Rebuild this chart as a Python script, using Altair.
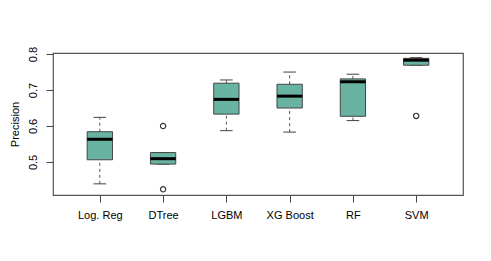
import altair as alt
import pandas as pd

models = ["Log. Reg", "DTree", "LGBM", "XG Boost", "RF", "SVM"]
whisk_lo = [0.439, 0.494, 0.587, 0.583, 0.615, 0.769]
q1 = [0.506, 0.494, 0.633, 0.650, 0.627, 0.769]
median = [0.563, 0.509, 0.674, 0.683, 0.723, 0.783]
q3 = [0.584, 0.526, 0.719, 0.716, 0.731, 0.788]
whisk_hi = [0.624, 0.526, 0.728, 0.750, 0.744, 0.790]
outlier_model = ["DTree", "DTree", "SVM"]
outlier_value = [0.600, 0.424, 0.628]
y_ticks = [0.5, 0.6, 0.7, 0.8]

pos = list(range(1, len(models) + 1))
df = pd.DataFrame({
    "model": models, "pos": pos, "lo": whisk_lo, "q1": q1,
    "med": median, "q3": q3, "hi": whisk_hi,
})
odf = pd.DataFrame({
    "pos": [models.index(m) + 1 for m in outlier_model],
    "value": outlier_value,
})

FONT = "Liberation Sans"
xs = alt.Scale(domain=[0.26, 6.74], nice=False, zero=False)
ys = alt.Scale(domain=[0.408, 0.803], nice=False, zero=False)

label_expr = "[" + ",".join("'%s'" % m for m in models) + "][datum.value - 1]"

x_axis = alt.Axis(values=pos, labelExpr=label_expr, title=None, grid=False,
                  domain=False, tickSize=7, tickColor="#444", labelPadding=16,
                  labelBaseline="alphabetic", labelFont=FONT, labelFontSize=11,
                  labelColor="#000", labelAngle=0)
y_axis = alt.Axis(values=y_ticks, format=".1f", title="Precision", grid=False,
                  domain=False, tickSize=7, tickColor="#444", labelPadding=10,
                  labelAngle=270, labelAlign="center", labelBaseline="alphabetic",
                  labelFont=FONT, labelFontSize=11, labelColor="#000",
                  titleFont=FONT, titleFontSize=11, titleFontWeight="normal",
                  titleColor="#000", titleAngle=270, titleBaseline="alphabetic",
                  titleAlign="center", titleX=-35, titleY=71)

base = alt.Chart(df).transform_calculate(
    left="datum.pos - 0.2", right="datum.pos + 0.2",
    cl="datum.pos - 0.1", cr="datum.pos + 0.1",
)

whisk_up = base.mark_rule(color="#555", strokeDash=[3, 3], strokeWidth=1).encode(
    x=alt.X("pos:Q", scale=xs, axis=x_axis),
    y=alt.Y("q3:Q", scale=ys, axis=y_axis),
    y2="hi:Q",
)
whisk_dn = base.mark_rule(color="#555", strokeDash=[3, 3], strokeWidth=1).encode(
    x=alt.X("pos:Q", scale=xs, axis=x_axis),
    y=alt.Y("lo:Q", scale=ys, axis=y_axis),
    y2="q1:Q",
)
cap_hi = base.mark_rule(color="#444", strokeWidth=1).encode(
    x=alt.X("cl:Q", scale=xs, axis=x_axis), x2="cr:Q",
    y=alt.Y("hi:Q", scale=ys, axis=y_axis),
)
cap_lo = base.mark_rule(color="#444", strokeWidth=1).encode(
    x=alt.X("cl:Q", scale=xs, axis=x_axis), x2="cr:Q",
    y=alt.Y("lo:Q", scale=ys, axis=y_axis),
)
box = base.mark_rect(fill="#69b3a2", stroke="#444", strokeWidth=1).encode(
    x=alt.X("left:Q", scale=xs, axis=x_axis), x2="right:Q",
    y=alt.Y("q1:Q", scale=ys, axis=y_axis), y2="q3:Q",
)
med = base.mark_rule(color="#000", strokeWidth=3).encode(
    x=alt.X("left:Q", scale=xs, axis=x_axis), x2="right:Q",
    y=alt.Y("med:Q", scale=ys, axis=y_axis),
)
outs = alt.Chart(odf).mark_point(shape="circle", filled=False, color="#333",
                                 size=28, strokeWidth=1.2, opacity=1).encode(
    x=alt.X("pos:Q", scale=xs, axis=x_axis),
    y=alt.Y("value:Q", scale=ys, axis=y_axis),
)

chart = alt.layer(whisk_up, whisk_dn, cap_hi, cap_lo, box, med, outs).properties(
    width=410, height=142,
    autosize=alt.AutoSizeParams(type="none"),
    padding={"left": 45, "top": 45, "right": 20, "bottom": 50},
).configure_view(stroke="#555", strokeWidth=1.2)

chart.save("out.html", embed_options={"renderer": "svg", "actions": False})
